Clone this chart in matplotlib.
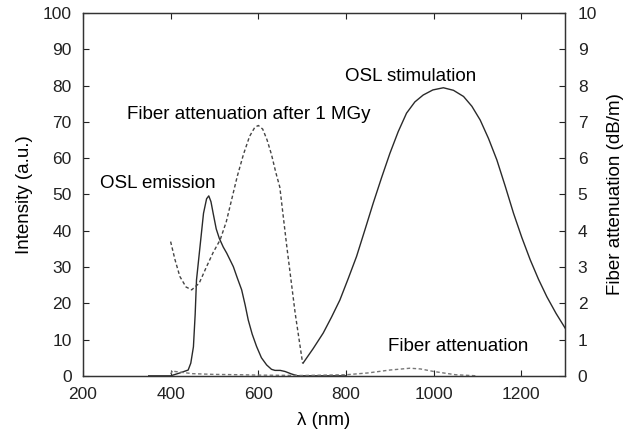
import numpy as np
import matplotlib
matplotlib.use('Agg')
import matplotlib.pyplot as plt

plt.rcParams['font.family'] = ['Liberation Sans', 'DejaVu Sans']
plt.rcParams['font.size'] = 12

# OSL emission spectrum (a.u.)
emis_wl = [350, 400, 421, 440, 446, 452, 456, 459, 467, 475, 482, 487, 492, 497, 504, 511, 520, 528,
           543, 552, 562, 570, 577, 586, 596, 607, 619, 630, 638, 650, 661, 676, 690, 800]
emis_int = [0, 0, 0.8, 1.6, 3.5, 8, 17, 26.4, 35.6, 44.8, 48.8, 49.6, 48, 44.8, 40.5, 37.9, 35.5, 33.8,
            30.1, 27, 23.7, 19.5, 15.4, 11.5, 8.1, 5, 3.0, 1.8, 1.5, 1.5, 1.2, 0.5, 0, 0]

# OSL stimulation spectrum (a.u.)
stim_wl = [702, 725, 748, 767, 786, 805, 824, 843, 862, 881, 900, 919, 938, 957, 976, 998, 1022,
           1045, 1068, 1087, 1106, 1125, 1144, 1163, 1182, 1201, 1220, 1239, 1258, 1279, 1300]
stim_int = [3.5, 7.5, 11.8, 16.2, 20.9, 26.8, 32.9, 40.2, 47.6, 54.6, 61.3, 67.3, 72.4, 75.5, 77.4, 78.8, 79.4,
            78.7, 77.0, 74.3, 70.5, 65.4, 59.5, 52.3, 44.8, 38.1, 32, 26.6, 21.8, 17.2, 13.1]

# fiber attenuation before irradiation (dB/m)
att_wl = [400, 405, 410, 430, 450, 500, 560, 600, 700, 800, 850, 900, 946, 970, 1000, 1050, 1100]
att_db = [0.05, 0.15, 0.12, 0.09, 0.06, 0.04, 0.03, 0.02, 0.01, 0.03, 0.08, 0.16, 0.21, 0.19, 0.12, 0.03, 0.0]

# fiber attenuation after 1 MGy (dB/m)
irr_wl = [400, 410, 421, 435, 448, 465, 482, 497, 513, 527, 539, 552, 566, 580, 592, 600, 610,
          620, 630, 640, 649, 665, 684, 701]
irr_db = [3.7, 3.2, 2.74, 2.45, 2.37, 2.55, 3.01, 3.4, 3.75, 4.25, 4.85, 5.5, 6.1, 6.6, 6.85, 6.9, 6.8,
          6.5, 6.1, 5.6, 5.2, 3.56, 1.73, 0.35]

fig = plt.figure(figsize=(6.33, 4.34), dpi=100)
ax = fig.add_axes([0.131, 0.134, 0.762, 0.836])
ax2 = ax.twinx()

ax.plot(emis_wl, emis_int, color='#2a2a2a', lw=1.0)
ax.plot(stim_wl, stim_int, color='#2a2a2a', lw=1.0)
ax2.plot(att_wl, att_db, color='#777777', lw=1.0, linestyle=(0, (2.5, 1.8)))
ax2.plot(irr_wl, irr_db, color='#444444', lw=1.0, linestyle=(0, (2.5, 1.8)))

ax.set_xlim(200, 1300)
ax.set_ylim(0, 100)
ax2.set_ylim(0, 10)
ax.set_xticks(np.arange(200, 1201, 200))
ax.set_yticks(np.arange(0, 101, 10))
ax2.set_yticks(np.arange(0, 11, 1))

ax.tick_params(direction='in', length=4, width=0.8, top=True, right=False, labelsize=12.5,
               colors='#222222', pad=8)
ax2.tick_params(direction='in', length=4, width=0.8, labelsize=12.5, colors='#222222', pad=9)
for a in (ax, ax2):
    for s in a.spines.values():
        s.set_linewidth(0.9)
        s.set_color('#333333')

ax.set_xlabel('λ (nm)', fontsize=13.5, labelpad=7)
ax.set_ylabel('Intensity (a.u.)', fontsize=13.5, labelpad=7)
ax2.set_ylabel('Fiber attenuation (dB/m)', fontsize=13.5, labelpad=7)

ax.text(948, 82.6, 'OSL stimulation', ha='center', va='center', fontsize=13.5)
ax.text(579, 71.9, 'Fiber attenuation after 1 MGy', ha='center', va='center', fontsize=13.5)
ax.text(371, 53, 'OSL emission', ha='center', va='center', fontsize=13.5)
ax.text(1056, 8.1, 'Fiber attenuation', ha='center', va='center', fontsize=13.5)

fig.savefig('out.png', dpi=100)
